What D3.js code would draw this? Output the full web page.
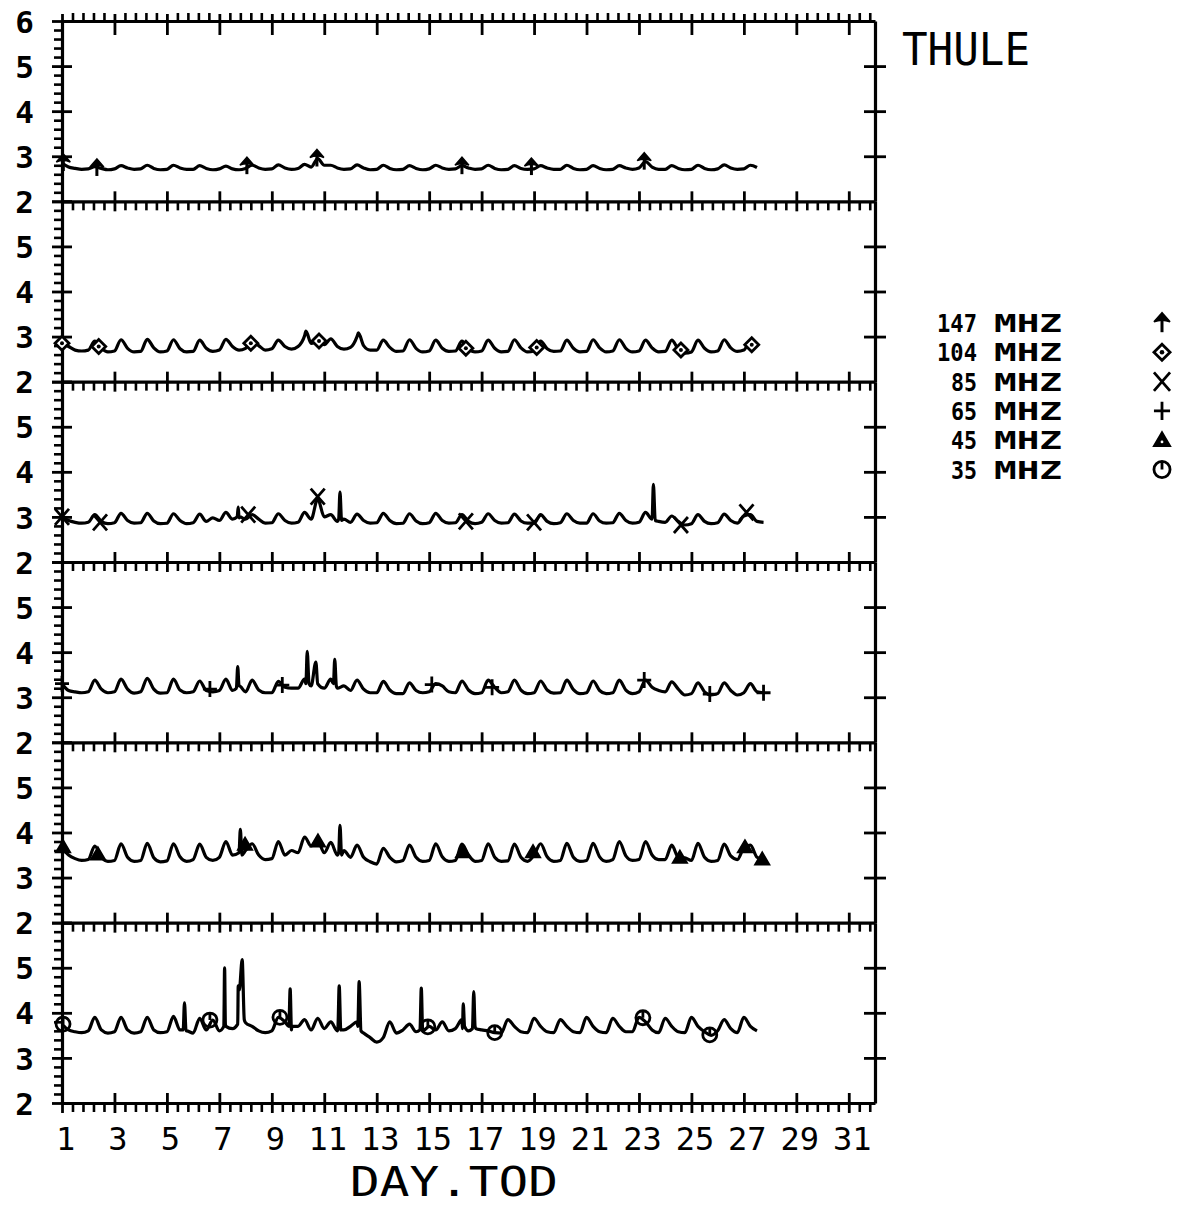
<!DOCTYPE html>
<html><head><meta charset="utf-8">
<script src="https://cdn.jsdelivr.net/npm/d3@7"></script>
<style>body{margin:0;background:#fff}svg{display:block}</style>
</head><body>
<svg id="c" width="1182" height="1205"></svg>
<script>
// ---------------- DATA ----------------
const stationName = "THULE";
const xTitle = "DAY.TOD";
const freqLabels = ["147", "104", "85", "65", "45", "35"];
const unitLabel = "MHZ";
const xTickLabels = [1,3,5,7,9,11,13,15,17,19,21,23,25,27,29,31];
const yTickLabelsTop = [6,5,4,3,2];
const yTickLabelsOther = [5,4,3,2];
const timeStart = 1, timeStep = 0.25;   // samples every 6 h starting day 1.0

// values, 4 per day (day.00, .25, .50, .75)
const v147 = [
 2.85,2.76,2.73,2.71, 2.72,2.77,2.73,2.70, 2.72,2.79,2.74,2.71, 2.72,2.80,2.73,2.70,
 2.71,2.80,2.74,2.71, 2.71,2.79,2.73,2.70, 2.72,2.78,2.72,2.70, 2.73,2.80,2.74,2.71,
 2.72,2.81,2.74,2.71, 2.73,2.82,2.76,2.95, 2.80,2.80,2.74,2.71, 2.72,2.81,2.74,2.70,
 2.71,2.80,2.73,2.70, 2.71,2.79,2.73,2.70, 2.72,2.80,2.74,2.71, 2.72,2.79,2.74,2.71,
 2.72,2.80,2.73,2.70, 2.71,2.79,2.73,2.71, 2.72,2.79,2.74,2.71, 2.71,2.80,2.73,2.70,
 2.71,2.79,2.73,2.70, 2.71,2.79,2.74,2.71, 2.74,2.88,2.76,2.71, 2.71,2.79,2.73,2.70,
 2.71,2.80,2.73,2.70, 2.72,2.81,2.74,2.71, 2.72,2.80,2.75
];
const v104 = [
 2.85,2.78,2.70,2.68, 2.70,2.90,2.74,2.66, 2.68,2.93,2.74,2.66, 2.67,2.94,2.75,2.66,
 2.68,2.93,2.73,2.66, 2.67,2.92,2.74,2.67, 2.70,2.94,2.78,2.70, 2.74,2.90,2.80,2.70,
 2.73,2.92,2.78,2.72, 2.78,3.02,2.85,2.90, 2.82,2.95,2.78,2.72, 2.76,3.00,2.80,2.70,
 2.70,2.92,2.76,2.67, 2.68,2.93,2.74,2.66, 2.68,2.92,2.74,2.67, 2.68,2.90,2.73,2.66,
 2.68,2.92,2.74,2.66, 2.67,2.93,2.75,2.66, 2.68,2.90,2.73,2.67, 2.68,2.92,2.74,2.66,
 2.67,2.93,2.75,2.66, 2.68,2.93,2.74,2.66, 2.68,2.92,2.75,2.66, 2.67,2.92,2.72,2.63,
 2.66,2.92,2.74,2.66, 2.68,2.93,2.75,2.67, 2.70,2.90,2.80
];
const v85 = [
 3.00,2.92,2.88,2.86, 2.88,3.05,2.90,2.85, 2.87,3.08,2.92,2.86, 2.87,3.08,2.91,2.85,
 2.86,3.07,2.92,2.85, 2.87,3.06,2.90,2.98, 2.92,3.10,2.95,2.98, 2.95,3.05,2.95,2.86,
 2.87,3.07,2.92,2.86, 2.88,3.10,2.95,3.40, 3.00,3.05,2.90,2.95, 2.88,3.06,2.92,2.86,
 2.87,3.08,2.92,2.85, 2.86,3.07,2.91,2.85, 2.87,3.08,2.92,2.86, 2.87,3.05,2.90,2.85,
 2.88,3.07,2.92,2.86, 2.87,3.06,2.91,2.86, 2.86,3.05,2.90,2.85, 2.87,3.07,2.92,2.86,
 2.86,3.07,2.91,2.86, 2.87,3.08,2.92,2.86, 2.88,3.10,2.95,2.90, 2.88,3.02,2.90,2.82,
 2.85,3.05,2.90,2.85, 2.87,3.06,2.92,2.86, 3.02,3.05,2.90,2.88
];
const v65 = [
 3.30,3.15,3.12,3.10, 3.12,3.38,3.18,3.10, 3.12,3.40,3.18,3.09, 3.12,3.42,3.18,3.09,
 3.10,3.40,3.16,3.10, 3.12,3.36,3.15,3.12, 3.15,3.40,3.15,3.25, 3.12,3.38,3.16,3.10,
 3.10,3.35,3.22,3.20, 3.20,3.40,3.25,3.30, 3.20,3.40,3.20,3.25, 3.15,3.38,3.18,3.10,
 3.10,3.35,3.16,3.08, 3.08,3.32,3.15,3.10, 3.12,3.30,3.25,3.12, 3.10,3.36,3.16,3.08,
 3.10,3.38,3.22,3.10, 3.12,3.38,3.16,3.08, 3.10,3.36,3.16,3.09, 3.10,3.38,3.17,3.08,
 3.10,3.36,3.15,3.08, 3.10,3.38,3.16,3.08, 3.12,3.38,3.22,3.15, 3.12,3.34,3.18,3.05,
 3.08,3.32,3.12,3.05, 3.08,3.32,3.15,3.05, 3.10,3.30,3.12,3.10
];
const v45 = [
 3.65,3.50,3.42,3.38, 3.40,3.70,3.45,3.36, 3.38,3.75,3.45,3.36, 3.38,3.76,3.44,3.35,
 3.37,3.75,3.46,3.36, 3.40,3.74,3.45,3.38, 3.45,3.80,3.50,3.55, 3.60,3.75,3.50,3.40,
 3.42,3.80,3.50,3.60, 3.55,3.90,3.70,3.82, 3.55,3.78,3.50,3.60, 3.45,3.72,3.45,3.35,
 3.30,3.65,3.45,3.35, 3.38,3.72,3.45,3.36, 3.38,3.75,3.46,3.36, 3.38,3.74,3.50,3.36,
 3.38,3.75,3.45,3.36, 3.37,3.74,3.45,3.36, 3.50,3.75,3.46,3.36, 3.38,3.76,3.45,3.36,
 3.38,3.76,3.46,3.36, 3.40,3.80,3.48,3.38, 3.40,3.80,3.50,3.40, 3.40,3.72,3.45,3.44,
 3.38,3.76,3.45,3.36, 3.38,3.74,3.48,3.40, 3.66,3.72,3.45,3.40
];
const v35 = [
 3.75,3.62,3.58,3.56, 3.60,3.90,3.62,3.55, 3.58,3.90,3.62,3.55, 3.58,3.90,3.62,3.56,
 3.58,3.92,3.62,3.60, 3.55,3.88,3.62,3.84, 3.60,3.70,3.65,4.55, 3.78,3.70,3.60,3.56,
 3.60,3.90,3.80,3.62, 3.70,3.85,3.62,3.88, 3.65,3.80,3.60,3.62, 3.70,3.80,3.55,3.45,
 3.35,3.45,3.80,3.55, 3.62,3.75,3.58,3.62, 3.70,3.62,3.80,3.60, 3.65,3.85,3.60,3.70,
 3.62,3.60,3.56,3.55, 3.85,3.70,3.58,3.56, 3.88,3.70,3.58,3.56, 3.85,3.70,3.58,3.56,
 3.90,3.70,3.58,3.56, 3.88,3.70,3.58,3.58, 3.90,3.80,3.62,3.56, 3.88,3.70,3.58,3.56,
 3.90,3.70,3.58,3.50, 3.60,3.85,3.65,3.56, 3.90,3.70,3.60
];

// short spikes [day, value]
const spikes147 = [];
const spikes104 = [[10.3,3.12],[12.3,3.08]];
const spikes85 = [[7.68,3.0],[7.72,3.22],[7.78,3.0],[11.55,2.95],[11.6,3.55],[11.66,2.92],
                  [23.5,2.95],[23.55,3.72],[23.62,2.92]];
const spikes65 = [[7.65,3.2],[7.7,3.68],[7.76,3.25],[10.3,3.3],[10.35,4.02],[10.42,3.3],
                  [10.68,3.78],[11.35,3.3],[11.4,3.84],[11.46,3.25]];
const spikes45 = [[7.75,3.55],[7.8,4.07],[7.86,3.5],[11.55,3.55],[11.6,4.16],[11.66,3.5]];
const spikes35 = [[5.62,3.62],[5.67,4.22],[5.73,3.6],[7.17,3.7],[7.2,5.0],[7.23,3.75],
                  [7.7,3.75],[7.72,4.6],[7.76,4.5],[7.87,5.18],[7.95,3.85],
                  [9.65,3.7],[9.7,4.53],[9.76,3.7],[11.52,3.65],[11.57,4.6],[11.63,3.62],
                  [12.28,3.7],[12.33,4.69],[12.4,3.6],[14.65,3.62],[14.7,4.55],[14.76,3.6],
                  [16.27,3.65],[16.3,4.2],[16.35,3.7],[16.65,3.65],[16.7,4.47],[16.78,3.65]];

// plotted symbols [day, value]
const marks147 = [[1.05,2.85],[2.33,2.74],[8.05,2.78],[10.72,2.95],[16.25,2.78],[18.9,2.76],[23.2,2.88]];
const marks104 = [[1.0,2.85],[2.4,2.78],[8.2,2.85],[10.8,2.9],[16.4,2.74],[19.1,2.76],[24.6,2.70],[27.3,2.82]];
const marks85 = [[1.0,3.0],[2.45,2.88],[8.1,3.05],[10.75,3.45],[16.4,2.9],[19.0,2.88],[24.6,2.82],[27.1,3.1]];
const marks65 = [[1.0,3.3],[6.64,3.18],[9.4,3.27],[15.1,3.28],[17.4,3.22],[23.2,3.38],[25.7,3.07],[27.75,3.1]];
const marks45 = [[1.04,3.67],[2.37,3.51],[7.98,3.73],[10.76,3.8],[16.29,3.56],[18.96,3.56],[24.56,3.44],[27.04,3.67],[27.7,3.4]];
const marks35 = [[1.04,3.75],[6.64,3.84],[9.31,3.9],[14.95,3.69],[17.5,3.56],[23.15,3.89],[25.7,3.51]];

// ---------------- BUILD ----------------
const series = [
  {vals:v147, spikes:spikes147, marks:marks147, sym:"arrow"},
  {vals:v104, spikes:spikes104, marks:marks104, sym:"diamond"},
  {vals:v85,  spikes:spikes85,  marks:marks85,  sym:"x"},
  {vals:v65,  spikes:spikes65,  marks:marks65,  sym:"plus"},
  {vals:v45,  spikes:spikes45,  marks:marks45,  sym:"triangle"},
  {vals:v35,  spikes:spikes35,  marks:marks35,  sym:"circle"}
];

const svg = d3.select("#c");
const FONT = "'DejaVu Sans Mono', 'Liberation Mono', monospace";
const x = d3.scaleLinear().domain([1, 32]).range([62, 875]);
const top0 = 21, ph = 180.33;
const yScale = i => d3.scaleLinear().domain([2, 6]).range([top0 + (i + 1) * ph, top0 + i * ph]);

const majorX = xTickLabels;
const minorX = d3.range(0, 78).filter(k => k % 5 !== 0).map(k => 1 + k * 0.4);

function clean(g) { g.selectAll(".tick text").remove(); return g; }

// horizontal axes at each panel boundary
for (let b = 0; b <= 6; b++) {
  const yy = top0 + b * ph;
  const ga = svg.append("g").attr("transform", `translate(0,${yy})`)
    .call(d3.axisBottom(x).tickValues(majorX).tickSize(0).tickSizeOuter(0).tickFormat(""));
  clean(ga);
  ga.select(".domain").attr("stroke", "#000").attr("stroke-width", 3.2);
  ga.selectAll(".tick line").attr("stroke", "#000").attr("stroke-width", 2.8)
    .attr("y1", b === 0 ? -7 : -10).attr("y2", b === 0 ? 14 : 10);
  const gm = svg.append("g").attr("transform", `translate(0,${yy})`)
    .call(d3.axisBottom(x).tickValues(minorX).tickSize(b === 0 ? -8 : 9).tickSizeOuter(0).tickFormat(""));
  clean(gm);
  gm.select(".domain").remove();
  gm.selectAll(".tick line").attr("stroke", "#000").attr("stroke-width", 2.6);
}

// vertical axes per panel
series.forEach((s, i) => {
  const y = yScale(i);
  const gl = svg.append("g").attr("transform", `translate(${x(1)},0)`)
    .call(d3.axisLeft(y).tickValues([2,3,4,5,6]).tickSize(0).tickSizeOuter(0).tickFormat(""));
  clean(gl);
  gl.select(".domain").attr("stroke", "#000").attr("stroke-width", 3.2);
  gl.selectAll(".tick line").attr("stroke", "#000").attr("stroke-width", 2.8).attr("x1", -10).attr("x2", 10);
  const minorY = d3.range(1, 20).filter(k => k % 5 !== 0).map(k => 2 + k * 0.2);
  const glm = svg.append("g").attr("transform", `translate(${x(1)},0)`)
    .call(d3.axisLeft(y).tickValues(minorY).tickSize(8).tickSizeOuter(0).tickFormat(""));
  clean(glm);
  glm.select(".domain").remove();
  glm.selectAll(".tick line").attr("stroke", "#000").attr("stroke-width", 2.6);

  const gr = svg.append("g").attr("transform", `translate(${x(32)},0)`)
    .call(d3.axisRight(y).tickValues([3,4,5]).tickSize(0).tickSizeOuter(0).tickFormat(""));
  clean(gr);
  gr.select(".domain").attr("stroke", "#000").attr("stroke-width", 3.2);
  gr.selectAll(".tick line").attr("stroke", "#000").attr("stroke-width", 2.8).attr("x1", -11).attr("x2", 11);

  // tick labels
  const lab = svg.append("g").attr("transform", `translate(${x(1)},0)`)
    .call(d3.axisLeft(y).tickValues(i === 0 ? yTickLabelsTop : yTickLabelsOther)
      .tickSize(0).tickPadding(28).tickFormat(d3.format("d")));
  lab.select(".domain").remove();
  lab.selectAll(".tick line").remove();
  lab.selectAll("text").attr("font-family", FONT).attr("font-size", 31)
    .attr("font-weight", "bold").attr("fill", "#000").attr("dy", "0.36em");
});

// x tick labels
const xl = svg.append("g").attr("transform", `translate(0,${top0 + 6 * ph})`)
  .call(d3.axisBottom(x).tickValues(xTickLabels).tickSize(0).tickPadding(24).tickFormat(d3.format("d")));
xl.select(".domain").remove();
xl.selectAll(".tick line").remove();
xl.selectAll("text").attr("font-family", FONT).attr("font-size", 32).attr("fill", "#000").attr("dx", 3);

// axis title
svg.append("text").attr("x", 454).attr("y", 1196).attr("text-anchor", "middle")
  .attr("font-family", FONT).attr("font-size", 41).attr("textLength", 208)
  .attr("lengthAdjust", "spacingAndGlyphs").text(xTitle);

// station
svg.append("text").attr("x", 902).attr("y", 65)
  .attr("font-family", FONT).attr("font-size", 45).attr("textLength", 128)
  .attr("lengthAdjust", "spacingAndGlyphs").text(stationName);

// symbols
function drawSym(g, type, k) {
  const sw = 2.8;
  if (type === "arrow") {
    g.append("path").attr("d", `M0,${-9*k} L${-7*k},${-1*k} Q0,${-4*k} ${7*k},${-1*k} Z`).attr("fill", "#000").attr("stroke", "#000").attr("stroke-width", 1.5);
    g.append("path").attr("d", `M0,${-3*k} L0,${8*k}`).attr("stroke", "#000").attr("stroke-width", 3);
  } else if (type === "diamond") {
    g.append("path").attr("d", `M0,${-7*k} L${7*k},0 L0,${7*k} L${-7*k},0 Z`).attr("fill", "#fff").attr("stroke", "#000").attr("stroke-width", sw);
    g.append("circle").attr("r", 2 * k).attr("fill", "#000");
  } else if (type === "x") {
    g.append("path").attr("d", `M${-7*k},${-8*k} L${7*k},${8*k} M${7*k},${-8*k} L${-7*k},${8*k}`).attr("stroke", "#000").attr("stroke-width", sw).attr("fill", "none");
  } else if (type === "plus") {
    g.append("path").attr("d", `M${-7*k},0 L${7*k},0 M0,${-8*k} L0,${8*k}`).attr("stroke", "#000").attr("stroke-width", sw).attr("fill", "none");
  } else if (type === "triangle") {
    g.append("path").attr("d", `M0,${-7*k} L${7*k},${5*k} L${-7*k},${5*k} Z`).attr("fill", "#000").attr("stroke", "#000").attr("stroke-width", 2);
    if (k > 1) g.append("circle").attr("cy", 1.5 * k).attr("r", 1.4).attr("fill", "#fff");
  } else if (type === "circle") {
    g.append("circle").attr("r", 7 * k).attr("fill", "none").attr("stroke", "#000").attr("stroke-width", sw);
    g.append("path").attr("d", `M0,${-7*k} L0,0`).attr("stroke", "#000").attr("stroke-width", sw);
  }
}

// data lines
series.forEach((s, i) => {
  const y = yScale(i);
  const pts = s.vals.map((v, j) => [timeStart + j * timeStep, v]).concat(s.spikes)
    .sort((a, b) => a[0] - b[0]);
  const line = d3.line().x(d => x(d[0])).y(d => y(d[1])).curve(d3.curveMonotoneX);
  svg.append("path").datum(pts).attr("d", line).attr("fill", "none")
    .attr("stroke", "#000").attr("stroke-width", 3.2).attr("stroke-linejoin", "round");
  s.marks.forEach(m => {
    const g = svg.append("g").attr("transform", `translate(${x(m[0])},${y(m[1])})`);
    drawSym(g, s.sym, 1);
  });
});

// legend
freqLabels.forEach((f, i) => {
  const cy = 323 + i * 29.3;
  svg.append("text").attr("x", 977).attr("y", cy + 9).attr("text-anchor", "end")
    .attr("font-family", FONT).attr("font-size", 25).attr("font-weight", "bold")
    .attr("textLength", f.length === 3 ? 40 : 26).attr("lengthAdjust", "spacingAndGlyphs").text(f);
  svg.append("text").attr("x", 994).attr("y", cy + 9)
    .attr("font-family", FONT).attr("font-size", 25).attr("font-weight", "bold")
    .attr("textLength", 68).attr("lengthAdjust", "spacingAndGlyphs").text(unitLabel);
  const g = svg.append("g").attr("transform", `translate(1162,${cy})`);
  drawSym(g, series[i].sym, 1.15);
});
</script>
</body></html>
